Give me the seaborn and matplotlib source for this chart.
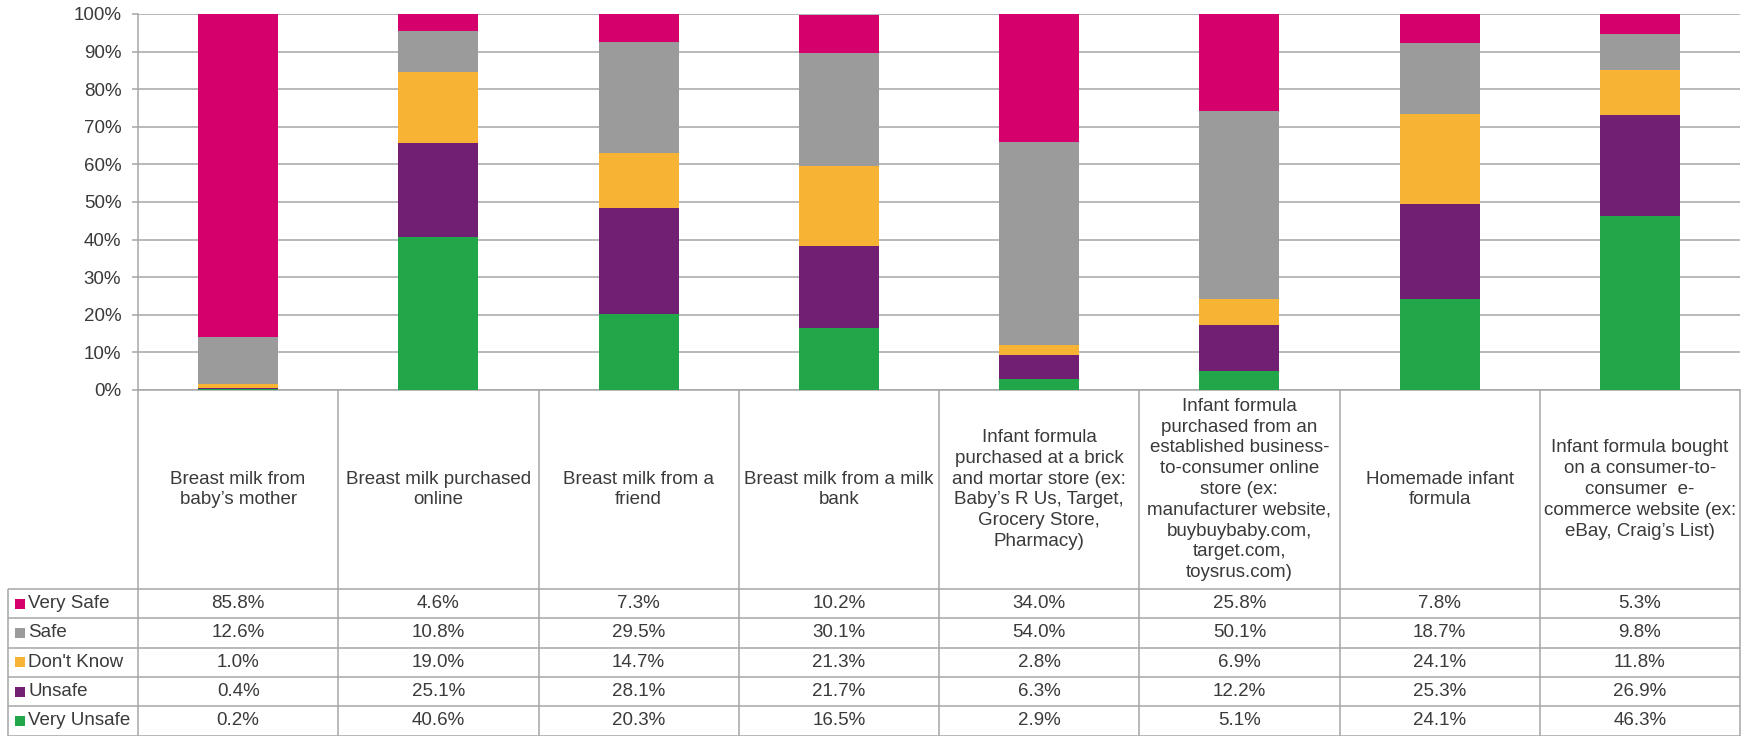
import matplotlib
matplotlib.use("Agg")
import matplotlib.pyplot as plt
import numpy as np
import pandas as pd
import seaborn as sns

# ---- data -------------------------------------------------------------
categories = [
    "Breast milk from\nbaby’s mother",
    "Breast milk purchased\nonline",
    "Breast milk from a\nfriend",
    "Breast milk from a milk\nbank",
    "Infant formula\npurchased at a brick\nand mortar store (ex:\nBaby’s R Us, Target,\nGrocery Store,\nPharmacy)",
    "Infant formula\npurchased from an\nestablished business-\nto-consumer online\nstore (ex:\nmanufacturer website,\nbuybuybaby.com,\ntarget.com,\ntoysrus.com)",
    "Homemade infant\nformula",
    "Infant formula bought\non a consumer-to-\nconsumer  e-\ncommerce website (ex:\neBay, Craig’s List)",
]

series_names = ["Very Safe", "Safe", "Don't Know", "Unsafe", "Very Unsafe"]
very_safe   = [85.8, 4.6, 7.3, 10.2, 34.0, 25.8, 7.8, 5.3]
safe        = [12.6, 10.8, 29.5, 30.1, 54.0, 50.1, 18.7, 9.8]
dont_know   = [1.0, 19.0, 14.7, 21.3, 2.8, 6.9, 24.1, 11.8]
unsafe      = [0.4, 25.1, 28.1, 21.7, 6.3, 12.2, 25.3, 26.9]
very_unsafe = [0.2, 40.6, 20.3, 16.5, 2.9, 5.1, 24.1, 46.3]

colors = ["#D6006C", "#9B9B9B", "#F7B334", "#701F73", "#21A64A"]
y_ticks = list(range(0, 101, 10))
y_tick_labels = [f"{t}%" for t in y_ticks]

series = [very_safe, safe, dont_know, unsafe, very_unsafe]

# ---- layout (pixels) --------------------------------------------------
W, H = 1746, 736
PLOT_L, PLOT_R = 138, 1740
PLOT_T, PLOT_B = 14, 390
TABLE_L = 8
HEADER_B = 589
ROW_H = (H - 0.5 - HEADER_B) / 5

GRID = "#A6A6A6"
TEXT = "#3A3A3A"
FONT = "Liberation Sans"
FS = 13.5

sns.set_theme(style="white")
plt.rcParams["font.family"] = [FONT, "DejaVu Sans"]

fig = plt.figure(figsize=(W / 100, H / 100), dpi=100)
ax = fig.add_axes([PLOT_L / W, 1 - PLOT_B / H,
                   (PLOT_R - PLOT_L) / W, (PLOT_B - PLOT_T) / H])

# stacked bars: draw cumulative totals from the top segment down
df = pd.DataFrame({name: vals for name, vals in zip(series_names, series)})
df["category"] = [f"c{i}" for i in range(len(categories))]
for k, (name, col) in enumerate(zip(series_names, colors)):
    cum = df[series_names[k:]].sum(axis=1)
    sns.barplot(x=df["category"], y=cum, color=col, width=0.4,
                errorbar=None, linewidth=0, saturation=1, ax=ax, zorder=3)

ax.set_xlim(-0.5, len(categories) - 0.5)
ax.set_ylim(0, 100)
ax.set_yticks(y_ticks)
ax.set_yticklabels(y_tick_labels, fontsize=FS, color=TEXT)
ax.set_xticks([])
ax.set_xlabel("")
ax.set_ylabel("")
ax.yaxis.grid(True, color=GRID, linewidth=1.1, zorder=0)
ax.set_axisbelow(True)
ax.tick_params(axis="y", length=4, width=1.1, color=GRID, pad=8, left=True)
for s in ["top", "right"]:
    ax.spines[s].set_visible(False)
for s in ["left", "bottom"]:
    ax.spines[s].set_color(GRID)
    ax.spines[s].set_linewidth(1.1)

# ---- data table below the bars ---------------------------------------
tab = fig.add_axes([0, 0, 1, 1], facecolor="none")
tab.set_xlim(0, W)
tab.set_ylim(H, 0)
tab.axis("off")

n = len(categories)
col_w = (PLOT_R - PLOT_L) / n
col_edges = [PLOT_L + i * col_w for i in range(n + 1)]
row_edges = [HEADER_B + j * ROW_H for j in range(6)]

lk = dict(color=GRID, linewidth=1.1, solid_capstyle="butt")
# vertical lines
tab.plot([PLOT_L, PLOT_L], [PLOT_B, H], **lk)
for xe in col_edges[1:]:
    tab.plot([xe, xe], [PLOT_B, H], **lk)
tab.plot([TABLE_L, TABLE_L], [HEADER_B, H], **lk)
# horizontal lines
for ye in row_edges:
    tab.plot([TABLE_L, PLOT_R], [ye, ye], **lk)

# header cells
for i, label in enumerate(categories):
    cx = (col_edges[i] + col_edges[i + 1]) / 2
    tab.text(cx, (PLOT_B + HEADER_B) / 2, label, ha="center", va="center",
             fontsize=FS, color=TEXT, linespacing=1.29, multialignment="center")

# data rows
for j, (name, vals, col) in enumerate(zip(series_names, series, colors)):
    cy = (row_edges[j] + row_edges[j + 1]) / 2
    tab.plot([20], [cy], marker="s", markersize=7.2, color=col,
             markeredgewidth=0, linestyle="none")
    tab.text(28, cy, name, ha="left", va="center", fontsize=FS, color=TEXT)
    for i, v in enumerate(vals):
        cx = (col_edges[i] + col_edges[i + 1]) / 2
        tab.text(cx, cy, f"{v:.1f}%", ha="center", va="center",
                 fontsize=FS, color=TEXT)

fig.savefig("out.png", dpi=100)
